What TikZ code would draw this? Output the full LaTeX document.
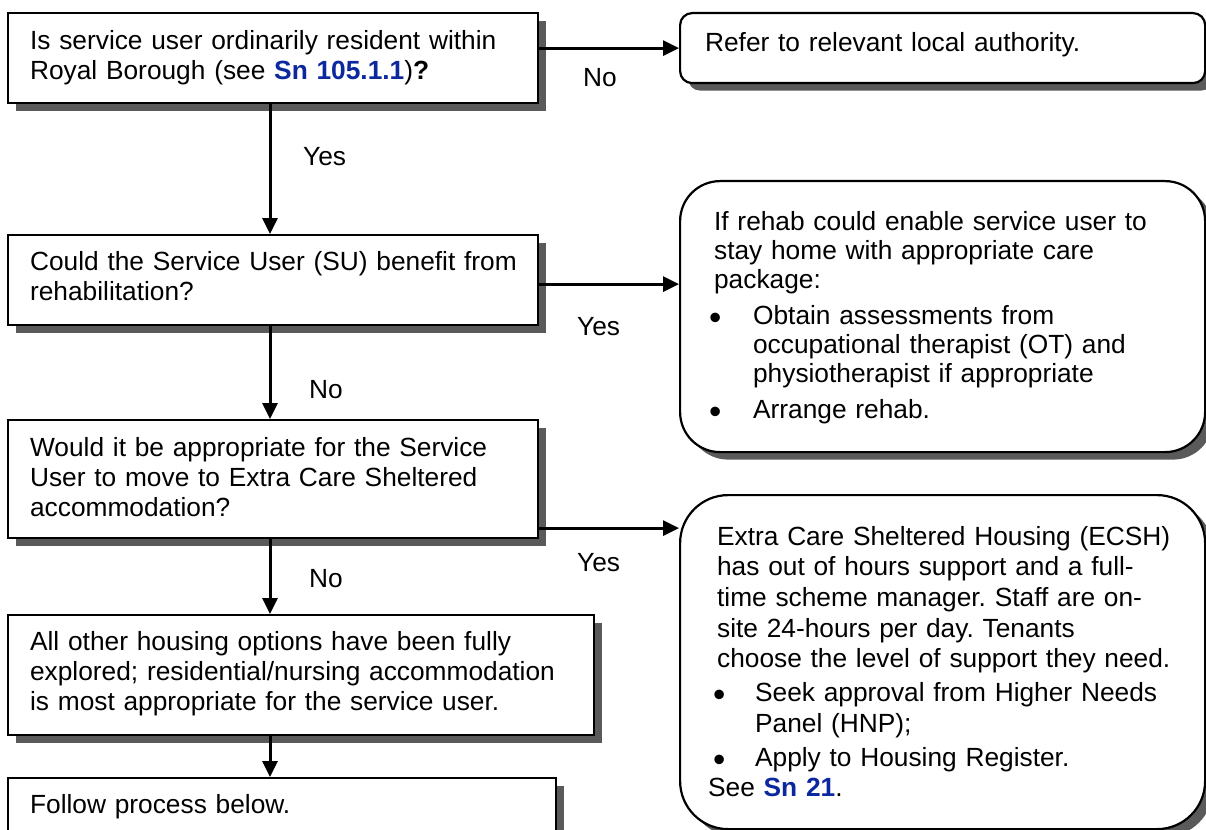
\documentclass[tikz,border=0pt]{standalone}
\usepackage{fontspec}
\setmainfont{Liberation Sans}
\usetikzlibrary{arrows.meta,shadows}

\definecolor{shadowgray}{RGB}{90,90,90}
\definecolor{snblue}{RGB}{12,40,158}
\newcommand\snref[1]{\textcolor{snblue}{\textbf{#1}}}
\newcommand\itembul[1]{\makebox[#1][l]{\raisebox{-5pt}{\scalebox{1.33}{\textbullet}}}}

\tikzset{
  boxtext/.style={font=\fontsize{26.3pt}{30pt}\selectfont},
  qbox/.style={boxtext, draw, line width=2.2pt, fill=white, anchor=north west,
    align=left, inner xsep=22pt, inner ysep=0pt,
    execute at begin node={\frenchspacing\rightskip=0pt plus 1fil minus 40pt\relax},
    drop shadow={shadow xshift=8pt, shadow yshift=-7.5pt, fill=shadowgray, opacity=1}},
  abox/.style={qbox, rounded corners=#1},
  arr/.style={-{Triangle[length=16pt,width=15pt]}, line width=3pt},
  lbl/.style={boxtext, anchor=base west, inner sep=0pt},
}

\begin{document}
\begin{tikzpicture}[x=1pt,y=-1pt]
  \useasboundingbox (0,0) rectangle (1206,829);
  \clip (0,0) rectangle (1206,829);
  % questions down the left
  \node[qbox, text width=486pt, text height=36pt, text depth=54pt] (q1) at (7,12)
    {Is service user ordinarily resident within\\
     Royal Borough (see \snref{Sn 105.1.1})\textbf{?}};
  \node[qbox, text width=486pt, text height=35pt, text depth=55pt] (q2) at (7,234)
    {Could the Service User (SU) benefit from\\ rehabilitation?};
  \node[qbox, text width=486pt, text height=36pt, text depth=82pt] (q3) at (7,419)
    {Would it be appropriate for the Service\\
     User to move to Extra Care Sheltered\\ accommodation?};
  \node[qbox, text width=542pt, text height=35pt, text depth=85pt] (q4) at (7,614)
    {All other housing options have been fully\\
     explored; residential/nursing accommodation\\
     is most appropriate for the service user.};
  \node[qbox, text width=504pt, text height=35pt, text depth=60pt] (q5) at (7,777)
    {Follow process below.};
  % outcomes on the right
  \node[abox=12pt, inner xsep=25pt, text width=475pt, text height=38pt, text depth=32pt]
    (refer) at (679,12) {Refer to relevant local authority.};
  \node[abox=40pt, inner xsep=29pt, text width=467pt, text height=49pt, text depth=222pt,
    font=\fontsize{26.3pt}{29pt}\selectfont] (rehab) at (679,180)
    {\hspace*{5pt}If rehab could enable service user to\\
     \hspace*{5pt}stay home with appropriate care\\
     \hspace*{5pt}package:\\[7pt]
     \itembul{44pt}Obtain assessments from\\
     \hspace*{44pt}occupational therapist (OT) and\\
     \hspace*{44pt}physiotherapist if appropriate\\[7pt]
     \itembul{44pt}Arrange rehab.};
  \node[abox=48pt, inner xsep=28pt, text width=469pt, text height=50pt, text depth=284pt,
    font=\fontsize{26.3pt}{30.7pt}\selectfont] (ecsh) at (679,494)
    {\hspace*{9pt}Extra Care Sheltered Housing (ECSH)\\
     \hspace*{9pt}has out of hours support and a full-\\
     \hspace*{9pt}time scheme manager. Staff are on-\\
     \hspace*{9pt}site 24-hours per day. Tenants\\
     \hspace*{9pt}choose the level of support they need.\\[3pt]
     \hspace*{5pt}\itembul{42pt}Seek approval from Higher Needs\\
     \hspace*{47pt}Panel (HNP);\\[3pt]
     \hspace*{5pt}\itembul{42pt}Apply to Housing Register.\\
     See \snref{Sn 21}.};
  % connectors
  \coordinate (spine) at (270,0);
  \coordinate (yes1) at ([yshift=-4pt]q2.east);
  \coordinate (yes2) at ([yshift=-49pt]q3.east);
  \draw[arr] (q1.east |- refer.west) -- (refer.west);
  \draw[arr] (q1.south -| spine) -- (q2.north -| spine);
  \draw[arr] (yes1) -- (yes1 -| rehab.west);
  \draw[arr] (q2.south -| spine) -- (q3.north -| spine);
  \draw[arr] (yes2) -- (yes2 -| ecsh.west);
  \draw[arr] (q3.south -| spine) -- (q4.north -| spine);
  \draw[arr] (q4.south -| spine) -- (q5.north -| spine);
  % answers
  \node[lbl] (no1) at (583,87) {No};
  \node[lbl] (yesa) at (303,166) {Yes};
  \node[lbl] (yesb) at (577,335) {Yes};
  \node[lbl] (no2) at (309,398) {No};
  \node[lbl] (yesc) at (577,571) {Yes};
  \node[lbl] (no3) at (309,587) {No};
\end{tikzpicture}
\end{document}
